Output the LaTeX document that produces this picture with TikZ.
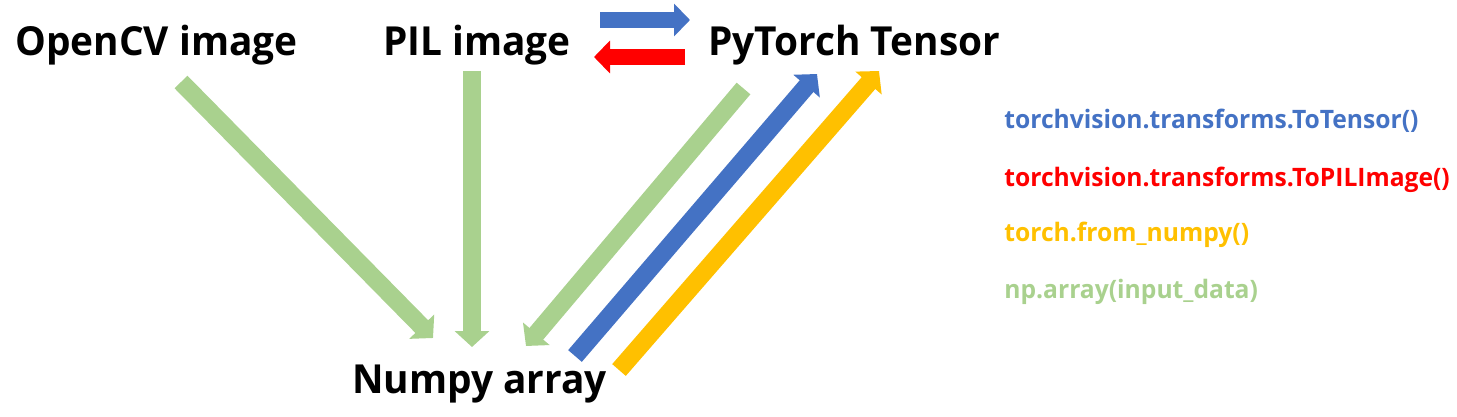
\documentclass[tikz,border=0pt]{standalone}
\usepackage{fontspec}
\setmainfont{Open Sans}[FakeStretch=0.97]
\usetikzlibrary{arrows.meta}
\definecolor{tvblue}{HTML}{4472C4}
\definecolor{tvred}{HTML}{FF0000}
\definecolor{tvorange}{HTML}{FFC000}
\definecolor{tvgreen}{HTML}{A9D18E}
\tikzset{
  typename/.style={font=\fontsize{20}{24}\selectfont\bfseries},
  legendtext/.style={font=\fontsize{12.7}{15}\selectfont\bfseries},
  flow/.style={line width=9pt, -{Triangle[width=17pt,length=8pt]}},
  swap/.style={line width=8pt, -{Triangle[width=16pt,length=8pt]}}
}
\begin{document}
\begin{tikzpicture}[x=0.5pt, y=-0.5pt, every node/.style={inner sep=0pt, anchor=base west}]
  \useasboundingbox (0,0) rectangle (1457,417);
  % data types
  \node[typename] (opencv) at (15,56) {OpenCV image};
  \node[typename] (pil) at (383,56) {PIL image};
  \node[typename] (tensor) at (708,56) {PyTorch Tensor};
  \node[typename] (numpy) at (352,393) {Numpy array};
  % legend
  \node[legendtext, text=tvblue] (totensor) at (1004,129) {torchvision.transforms.ToTensor()};
  \node[legendtext, text=tvred] (topil) at (1004,186) {torchvision.transforms.ToPILImage()};
  \node[legendtext, text=tvorange] (fromnp) at (1004,242) {torch.from\_numpy()};
  \node[legendtext, text=tvgreen] (nparray) at (1004,298) {np.array(input\_data)};
  % arrow ends
  \coordinate (cvout) at (181,82);
  \coordinate (npcv) at (433,338);
  \coordinate (pilout) at (472,71);
  \coordinate (nppil) at (472,347);
  \coordinate (tsout) at (743.5,88.5);
  \coordinate (npts) at (526,346);
  \coordinate (npblue) at (575,356);
  \coordinate (tsblue) at (817,74);
  \coordinate (nporange) at (619,370);
  \coordinate (tsorange) at (879,71);
  \coordinate (pilright) at (600,20);
  \coordinate (tsleft) at (690,20);
  \coordinate (tsback) at (685,57);
  \coordinate (pilback) at (594,57);
  % conversions
  \draw[flow, tvgreen] (cvout) -- (npcv);
  \draw[flow, tvgreen] (pilout) -- (nppil);
  \draw[flow, tvgreen] (tsout) -- (npts);
  \draw[flow, tvblue] (npblue) -- (tsblue);
  \draw[flow, tvorange] (nporange) -- (tsorange);
  \draw[swap, tvblue] (pilright) -- (tsleft);
  \draw[swap, tvred] (tsback) -- (pilback);
\end{tikzpicture}
\end{document}
